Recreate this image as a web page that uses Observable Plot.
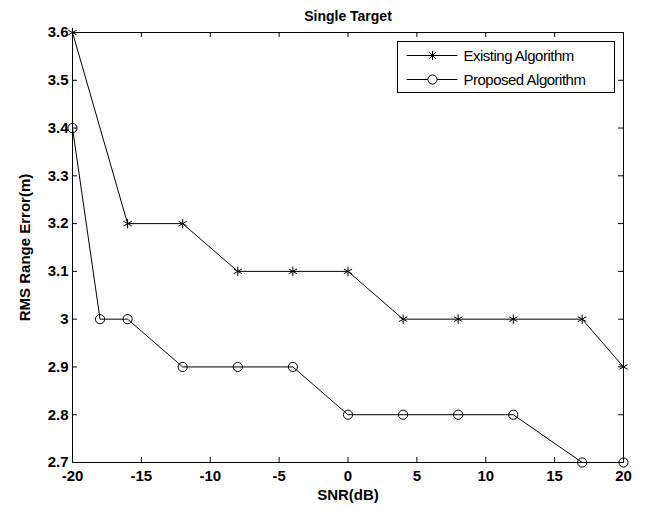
<!DOCTYPE html>
<html>
<head>
<meta charset="utf-8">
<script src="https://cdn.jsdelivr.net/npm/d3@7"></script>
<script src="https://cdn.jsdelivr.net/npm/@observablehq/plot@0.6"></script>
<style>
  html, body { margin: 0; padding: 0; background: #fff; }
  #chart { position: relative; width: 657px; height: 511px; }
</style>
</head>
<body>
<div id="chart"></div>
<script>
// ---- Data ----
const titleText = "Single Target";
const xLabel = "SNR(dB)";
const yLabel = "RMS Range Error(m)";
const seriesNames = ["Existing Algorithm", "Proposed Algorithm"];

const existingSNR = [-20, -16, -12, -8, -4, 0, 4, 8, 12, 17, 20];
const existingErr = [3.6, 3.2, 3.2, 3.1, 3.1, 3.1, 3.0, 3.0, 3.0, 3.0, 2.9];

const proposedSNR = [-20, -18, -16, -12, -8, -4, 0, 4, 8, 12, 17, 20];
const proposedErr = [3.4, 3.0, 3.0, 2.9, 2.9, 2.9, 2.8, 2.8, 2.8, 2.8, 2.7, 2.7];

const xTicks = [-20, -15, -10, -5, 0, 5, 10, 15, 20];
const xTickLabels = ["-20", "-15", "-10", "-5", "0", "5", "10", "15", "20"];
const yTicks = [2.7, 2.8, 2.9, 3.0, 3.1, 3.2, 3.3, 3.4, 3.5, 3.6];
const yTickLabels = ["2.7", "2.8", "2.9", "3", "3.1", "3.2", "3.3", "3.4", "3.5", "3.6"];

// ---- Build ----
const existing = existingSNR.map((x, i) => ({x, y: existingErr[i]}));
const proposed = proposedSNR.map((x, i) => ({x, y: proposedErr[i]}));

const W = 657, H = 511;
const mL = 72, mR = 34, mT = 32, mB = 49;
const innerW = W - mL - mR, innerH = H - mT - mB;
const tk = 5;
const font = "'Liberation Sans', Arial, sans-serif";

const plot = Plot.plot({
  width: W,
  height: H,
  marginLeft: mL,
  marginRight: mR,
  marginTop: mT,
  marginBottom: mB,
  style: {fontFamily: font, fontSize: "15px", color: "#000", background: "#fff", overflow: "visible"},
  x: {domain: [-20, 20]},
  y: {domain: [2.7, 3.6]},
  marks: [
    Plot.frame({stroke: "#000", strokeWidth: 1}),
    // inward ticks on all four sides
    Plot.tickX(xTicks, {x: d => d, insetTop: innerH - tk, stroke: "#000"}),
    Plot.tickX(xTicks, {x: d => d, insetBottom: innerH - tk, stroke: "#000"}),
    Plot.tickY(yTicks, {y: d => d, insetRight: innerW - tk, stroke: "#000"}),
    Plot.tickY(yTicks, {y: d => d, insetLeft: innerW - tk, stroke: "#000"}),
    Plot.axisX({ticks: xTicks, tickSize: 0, tickPadding: 8, label: null,
      tickFormat: d => xTickLabels[xTicks.indexOf(d)], fontWeight: "bold", fontSize: 15}),
    Plot.axisY({ticks: yTicks, tickSize: 0, tickPadding: 4, label: null,
      tickFormat: d => yTickLabels[yTicks.findIndex(t => Math.abs(t - d) < 1e-9)], fontWeight: "bold", fontSize: 15}),
    // series
    Plot.line(existing, {x: "x", y: "y", stroke: "#000", strokeWidth: 1}),
    Plot.dot(existing, {x: "x", y: "y", symbol: "asterisk", r: 4.5, stroke: "#000", strokeWidth: 1}),
    Plot.line(proposed, {x: "x", y: "y", stroke: "#000", strokeWidth: 1}),
    Plot.dot(proposed, {x: "x", y: "y", symbol: "circle", r: 4.6, stroke: "#000", fill: "none", strokeWidth: 1}),
    // texts
    Plot.text([titleText], {frameAnchor: "top", dy: -16, lineAnchor: "middle", textAnchor: "middle",
      text: d => d, fontWeight: "bold", fontSize: 14, letterSpacing: "-0.5px"}),
    Plot.text([xLabel], {frameAnchor: "bottom", dy: 33, lineAnchor: "middle", textAnchor: "middle",
      text: d => d, fontWeight: "bold", fontSize: 15, letterSpacing: "-0.8px"}),
    Plot.text([yLabel], {frameAnchor: "left", dx: -47, rotate: -90, lineAnchor: "middle", textAnchor: "middle",
      text: d => d, fontWeight: "bold", fontSize: 15, letterSpacing: "-0.6px"})
  ]
});

document.getElementById("chart").appendChild(plot);

// ---- Legend ----
const svg = d3.select(plot);
const lg = svg.append("g").attr("transform", "translate(397.5,41.5)").attr("text-anchor", "start");
lg.append("rect").attr("width", 217).attr("height", 51).attr("fill", "#fff").attr("stroke", "#000");
seriesNames.forEach((name, i) => {
  const y = 14 + i * 24;
  const row = lg.append("g").attr("transform", `translate(0,${y})`);
  row.append("line").attr("x1", 9).attr("x2", 60).attr("y1", 0).attr("y2", 0).attr("stroke", "#000");
  if (i === 0) {
    const s = 4.5;
    const c = 35;
    row.append("path")
      .attr("d", `M${c - s},0H${c + s}M${c},${-s}V${s}M${c - s * 0.75},${-s * 0.75}L${c + s * 0.75},${s * 0.75}M${c - s * 0.75},${s * 0.75}L${c + s * 0.75},${-s * 0.75}`)
      .attr("stroke", "#000").attr("fill", "none");
  } else {
    row.append("circle").attr("cx", 35).attr("cy", 0).attr("r", 4.6).attr("fill", "#fff").attr("stroke", "#000");
  }
  row.append("text").attr("x", 66).attr("y", 0).attr("dy", "0.35em").attr("text-anchor", "start")
    .attr("font-family", font).attr("font-size", 15).attr("letter-spacing", "-0.5px")
    .attr("fill", "#000").text(name);
});
</script>
</body>
</html>
